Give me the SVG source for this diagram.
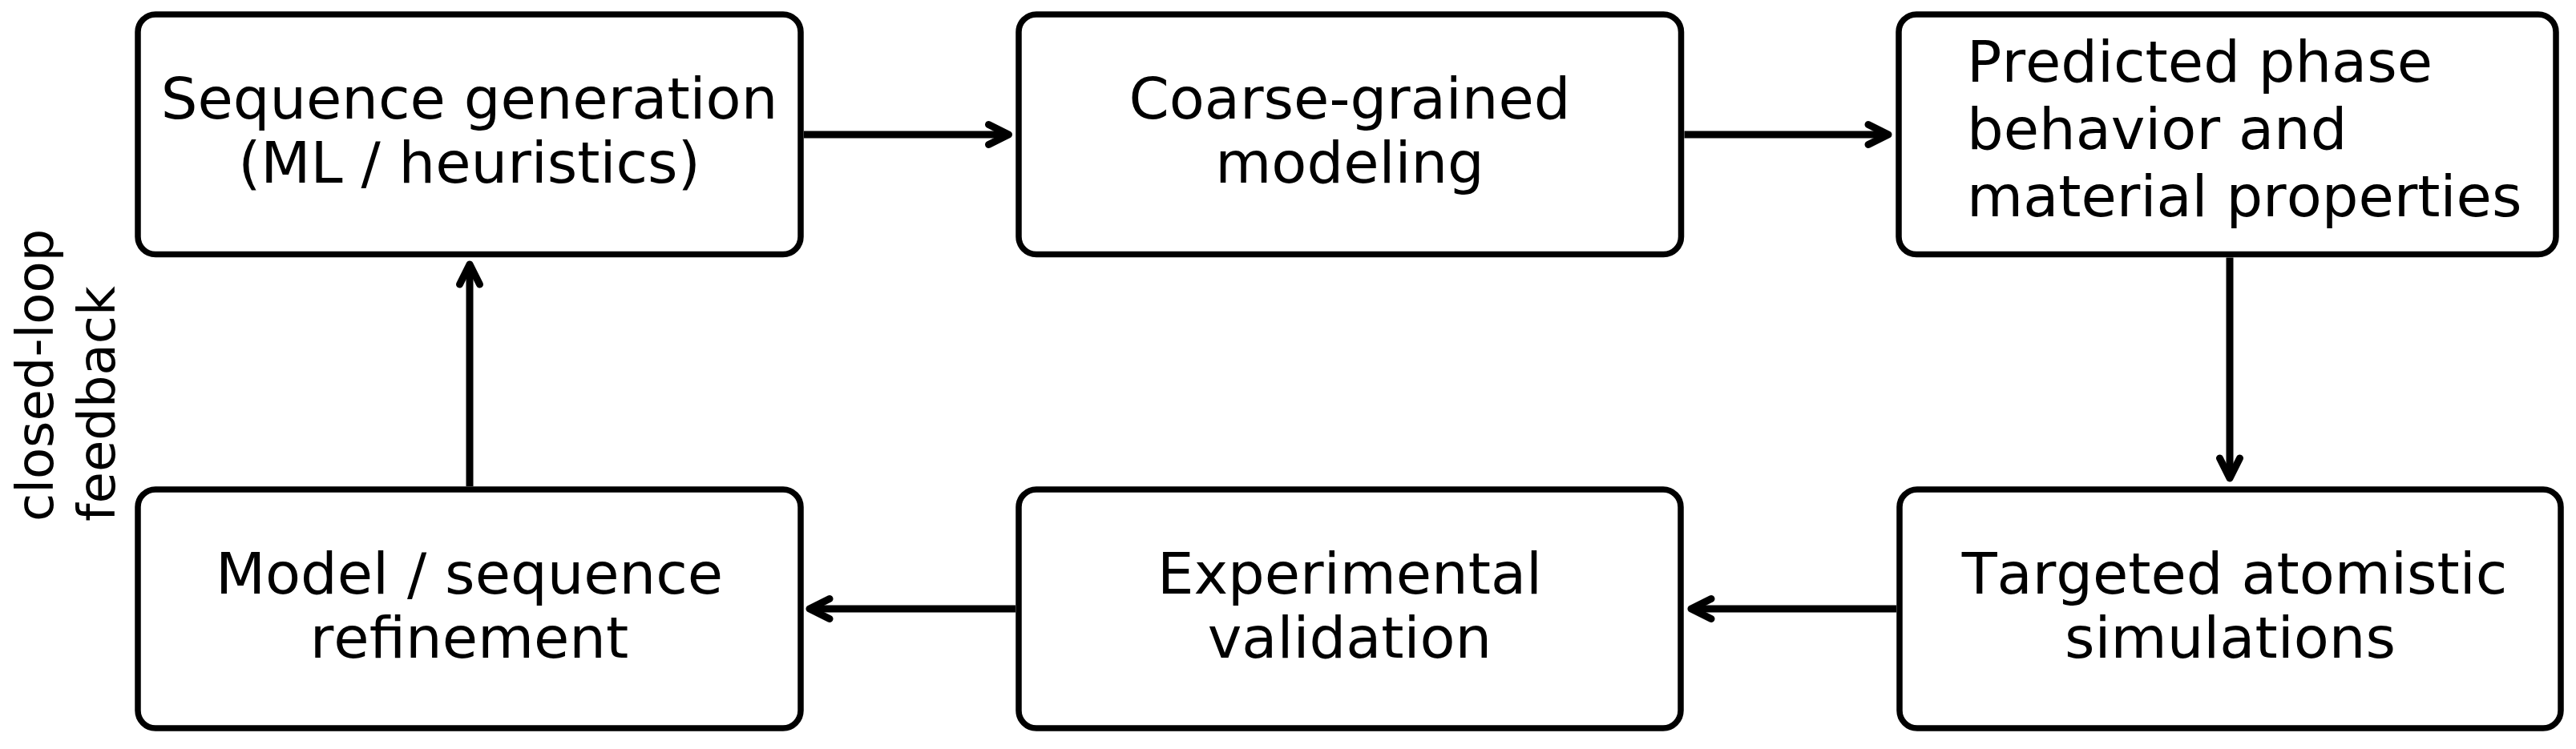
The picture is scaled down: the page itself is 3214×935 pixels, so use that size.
<svg xmlns="http://www.w3.org/2000/svg" width="3214" height="935" viewBox="0 0 3214 935">
<style>
.box{fill:#fff;stroke:#000;stroke-width:7.5}
.t{font-family:"DejaVu Sans","Liberation Sans",sans-serif;font-size:72px;fill:#000;font-kerning:none}
.c{text-anchor:middle}
.side{font-family:"DejaVu Sans","Liberation Sans",sans-serif;font-size:64px;fill:#000;font-kerning:none}
.conn{fill:none;stroke:#000;stroke-width:9;marker-end:url(#ah)}
</style>
<defs>
<marker id="ah" markerUnits="userSpaceOnUse" orient="auto" overflow="visible" markerWidth="1" markerHeight="1" refX="0" refY="0">
<path d="M-25,-12.5 L0,0 L-25,12.5" fill="none" stroke="#000" stroke-width="9" stroke-linecap="round" stroke-linejoin="round"/>
</marker>
</defs>
<rect width="3214" height="935" fill="#fff"/>
<g id="node-seqgen">
<rect class="box" x="172" y="18" width="827" height="299.5" rx="22"/>
<text class="t c" x="585.5" y="148">Sequence generation</text>
<text class="t c" x="585.5" y="228">(ML / heuristics)</text>
</g>
<g id="node-cg">
<rect class="box" x="1271" y="18" width="826.5" height="299.5" rx="22"/>
<text class="t c" x="1684" y="148">Coarse-grained</text>
<text class="t c" x="1684" y="228">modeling</text>
</g>
<g id="node-predicted">
<rect class="box" x="2369" y="18" width="820" height="299.5" rx="22"/>
<text class="t" x="2454" y="102">Predicted phase</text>
<text class="t" x="2454" y="186">behavior and</text>
<text class="t" x="2454" y="270">material properties</text>
</g>
<g id="node-refine">
<rect class="box" x="172" y="611" width="827" height="298" rx="22"/>
<text class="t c" x="585.5" y="741">Model / sequence</text>
<text class="t c" x="585.5" y="821">refinement</text>
</g>
<g id="node-exp">
<rect class="box" x="1271" y="611" width="826" height="298" rx="22"/>
<text class="t c" x="1684" y="741">Experimental</text>
<text class="t c" x="1684" y="821">validation</text>
</g>
<g id="node-atom">
<rect class="box" x="2370" y="611" width="825" height="298" rx="22"/>
<text class="t c" x="2788" y="741">Targeted atomistic</text>
<text class="t c" x="2782.5" y="821">simulations</text>
</g>
<g id="label-feedback">
<text class="side" transform="translate(66,651) rotate(-90)">closed-loop</text>
<text class="side" transform="translate(143,651) rotate(-90)">feedback</text>
</g>
<g id="connectors">
<path class="conn" d="M1003,168 L1258.5,168"/>
<path class="conn" d="M2101.5,168 L2356,168"/>
<path class="conn" d="M2782,321.5 L2782,597"/>
<path class="conn" d="M2366,760 L2110,760"/>
<path class="conn" d="M1267,760 L1010,760"/>
<path class="conn" d="M586,607 L586,330"/>
</g>
</svg>
